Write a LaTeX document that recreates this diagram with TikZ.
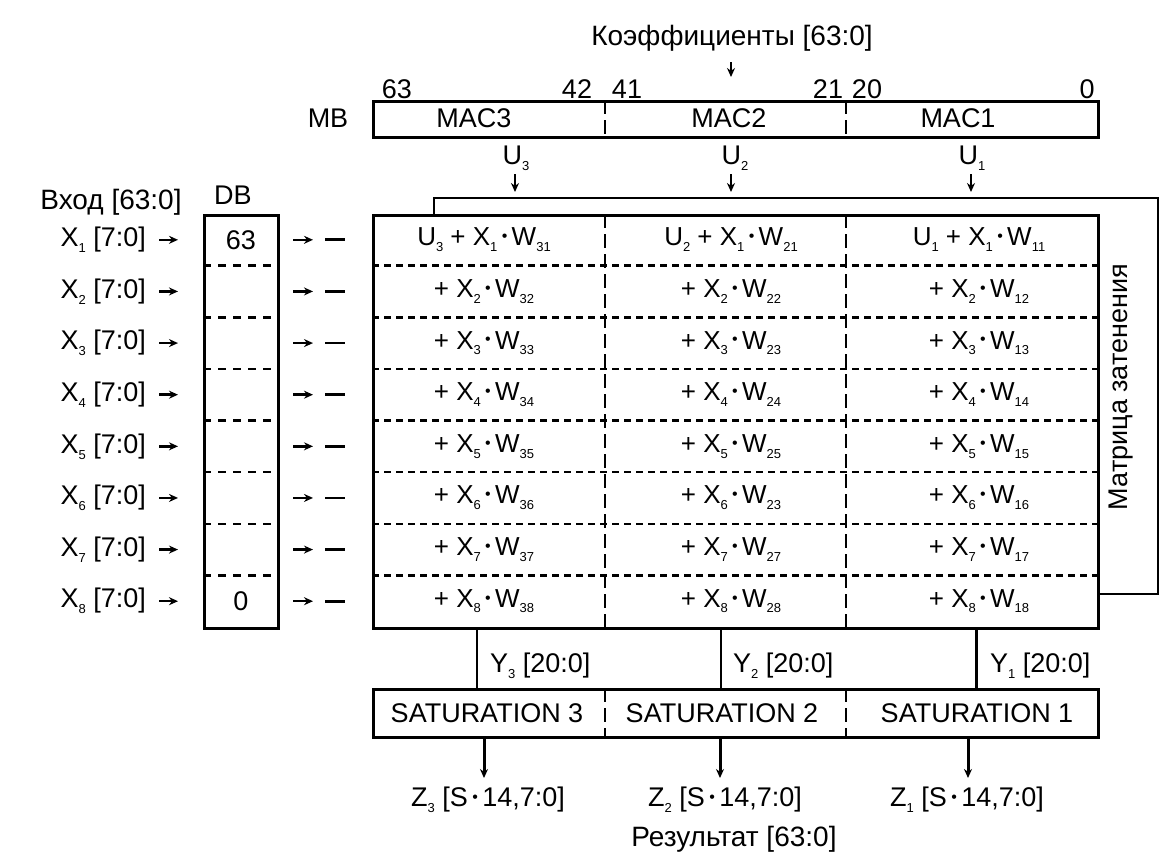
\documentclass[tikz,border=0pt]{standalone}
\usepackage{fontspec}
\setmainfont{Liberation Sans}
\usetikzlibrary{arrows.meta,calc}
\newcommand{\ix}[1]{\raisebox{-0.22em}{\fontsize{13}{13}\selectfont #1}}
\newcommand{\dotop}{\,\raisebox{0.16em}{\fontsize{16}{16}\selectfont •}\,}
\begin{document}
\begin{tikzpicture}[x=1pt,y=-1pt,
  lbl/.style={inner sep=0pt, font=\fontsize{27}{30}\selectfont},
  cyr/.style={inner sep=0pt, font=\fontsize{28}{32}\selectfont},
  cell/.style={inner sep=0pt, font=\fontsize{26}{30}\selectfont},
  bigbox/.style={draw, line width=3pt, inner sep=0pt, anchor=north west},
  rowline/.style={line width=2.5pt, dash pattern=on 7pt off 5pt},
  colline/.style={line width=2pt, dash pattern=on 14pt off 6pt},
  dbline/.style={line width=2.5pt, dash pattern=on 8pt off 7pt},
  arr/.style={line width=2.5pt, -{Stealth[length=9pt,width=8pt]}},
  wire/.style={line width=2.2pt}]
\useasboundingbox (0,0) rectangle (1168,855);

% column divider positions
\coordinate (d1) at (605,0);
\coordinate (d2) at (846,0);

% ---------- top ----------
\node[cyr] (coef) at (732,38) {Коэффициенты [63:0]};
\coordinate (ca1) at (731,62);
\coordinate (ca2) at (731,77);
\draw[arr] (ca1) -- (ca2);

\foreach \t/\x in {63/397, 42/577, 41/627, 21/828, 20/867, 0/1087}
  \node[lbl] (bit\t) at (\x,89) {\t};

\node[bigbox, minimum width=725pt, minimum height=36pt] (mb) at (372,100) {};
\node[lbl] (mblbl) at (328,118) {MB};
\draw[colline] (mb.north -| d1) -- (mb.south -| d1);
\draw[colline] (mb.north -| d2) -- (mb.south -| d2);
\node[lbl] (mac3) at (474,118) {MAC3};
\node[lbl] (mac2) at (729,118) {MAC2};
\node[lbl] (mac1) at (958,118) {MAC1};

\node[lbl] (u3) at (516,158) {U\ix{3}};
\node[lbl] (u2) at (735,158) {U\ix{2}};
\node[lbl] (u1) at (972,158) {U\ix{1}};
\foreach \k/\x in {3/515, 2/731, 1/971} {
  \coordinate (ua\k) at (\x,174);
  \coordinate (ub\k) at (\x,192);
  \draw[arr] (ua\k) -- (ub\k);
}

% ---------- matrix ----------
\node[bigbox, minimum width=725pt, minimum height=413pt] (mat) at (372,214) {};
\foreach \i in {1,...,7} {
  \pgfmathsetmacro{\yy}{214+\i*51.625}
  \draw[rowline] (mat.west |- 0,\yy) -- (mat.east |- 0,\yy);
}
\draw[colline] (mat.north -| d1) -- (mat.south -| d1);
\draw[colline] (mat.north -| d2) -- (mat.south -| d2);

% feedback loop
\coordinate (fb0) at (434,214);
\coordinate (fb1) at (434,198);
\coordinate (fb2) at (1158,198);
\coordinate (fb3) at (1158,594);
\coordinate (fb4) at (1097,594);
\draw[wire] (fb0) -- (fb1) -- (fb2) -- (fb3) -- (fb4);
\node[cyr, rotate=90, font=\fontsize{27}{30}\selectfont] (shade) at (1121,387) {Матрица затенения};

% cells
\pgfmathsetmacro{\ya}{214+0.5*51.625}
\node[cell] (c13) at (484,\ya) {U\ix{3} + X\ix{1}\dotop W\ix{31}};
\node[cell] (c12) at (731,\ya) {U\ix{2} + X\ix{1}\dotop W\ix{21}};
\node[cell] (c11) at (979,\ya) {U\ix{1} + X\ix{1}\dotop W\ix{11}};
\foreach \r/\a/\b/\c in {2/32/22/12, 3/33/23/13, 4/34/24/14, 5/35/25/15, 6/36/23/16, 7/37/27/17, 8/38/28/18} {
  \pgfmathsetmacro{\yr}{214+(\r-0.5)*51.625}
  \node[cell] (c\r3) at (484,\yr) {+ X\ix{\r}\dotop W\ix{\a}};
  \node[cell] (c\r2) at (731,\yr) {+ X\ix{\r}\dotop W\ix{\b}};
  \node[cell] (c\r1) at (979,\yr) {+ X\ix{\r}\dotop W\ix{\c}};
}

% ---------- DB and inputs ----------
\node[bigbox, minimum width=74pt, minimum height=413pt] (db) at (203,214) {};
\node[lbl] (dblbl) at (233,195) {DB};
\node[cyr] (vhod) at (111,202) {Вход [63:0]};
\foreach \i in {1,...,7} {
  \pgfmathsetmacro{\yy}{214+\i*51.625}
  \draw[dbline] (db.west |- 0,\yy) -- (db.east |- 0,\yy);
}
\node[lbl] (db63) at (241,{214+0.5*51.625}) {63};
\node[lbl] (db0) at (241,{214+7.5*51.625}) {0};

\foreach \r in {1,...,8} {
  \pgfmathsetmacro{\yr}{214+(\r-0.5)*51.625}
  \node[lbl, anchor=east] (x\r) at (146,\yr) {X\ix{\r} [7:0]};
  \coordinate (xa\r) at (159,\yr);
  \coordinate (xb\r) at (178,\yr);
  \draw[arr] (xa\r) -- (xb\r);
  \coordinate (oa\r) at (293,\yr);
  \coordinate (ob\r) at (313,\yr);
  \draw[arr] (oa\r) -- (ob\r);
  \coordinate (la\r) at (325,\yr);
  \coordinate (lb\r) at (345,\yr);
  \draw[line width=2.8pt] (la\r) -- (lb\r);
}

% ---------- bottom ----------
\node[draw, line width=2.5pt, inner sep=0pt, anchor=north west, minimum width=725pt, minimum height=48pt] (sat) at (372,688) {};
\draw[colline] (sat.north -| d1) -- (sat.south -| d1);
\draw[colline] (sat.north -| d2) -- (sat.south -| d2);
\node[lbl] (s3) at (487,713) {SATURATION 3};
\node[lbl] (s2) at (722,713) {SATURATION 2};
\node[lbl] (s1) at (977,713) {SATURATION 1};

\coordinate (y3x) at (477,0);
\coordinate (y2x) at (721,0);
\coordinate (y1x) at (976,0);
\draw[wire] (mat.south -| y3x) -- (sat.north -| y3x);
\draw[wire] (mat.south -| y2x) -- (sat.north -| y2x);
\draw[line width=3pt] (mat.south -| y1x) -- (sat.north -| y1x);
\node[lbl, anchor=west] (y3) at (490,666) {Y\ix{3} [20:0]};
\node[lbl, anchor=west] (y2) at (733,666) {Y\ix{2} [20:0]};
\node[lbl, anchor=west] (y1) at (990,666) {Y\ix{1} [20:0]};

\foreach \k/\x in {3/484, 2/720, 1/968} {
  \coordinate (za\k) at (\x,736);
  \coordinate (zb\k) at (\x,778);
  \draw[arr, line width=3pt] (za\k) -- (zb\k);
}
\node[lbl] (z3) at (488,800) {Z\ix{3} [S\dotop 14,7:0]};
\node[lbl] (z2) at (725,800) {Z\ix{2} [S\dotop 14,7:0]};
\node[lbl] (z1) at (967,800) {Z\ix{1} [S\dotop 14,7:0]};
\node[cyr] (res) at (734,839) {Результат [63:0]};
\end{tikzpicture}
\end{document}
